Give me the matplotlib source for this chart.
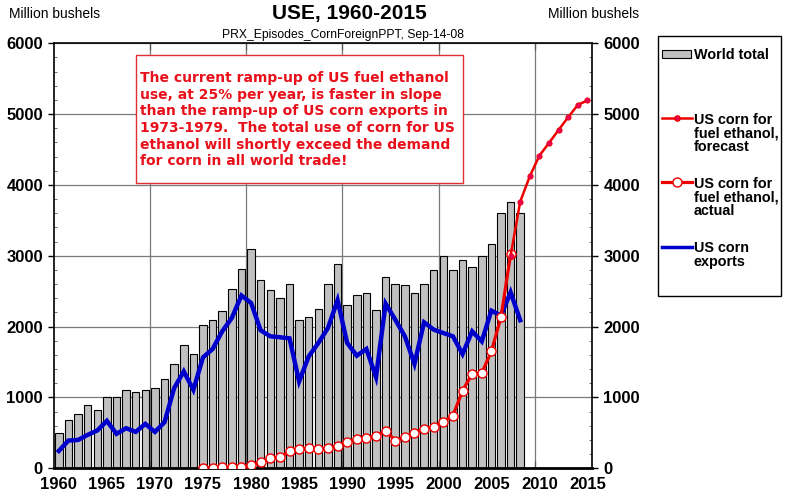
import numpy as np
import matplotlib
matplotlib.use("Agg")
import matplotlib.pyplot as plt
from matplotlib.patches import Rectangle
from matplotlib.lines import Line2D

plt.rcParams['font.family'] = ['Liberation Sans', 'DejaVu Sans']

# ====== Data (million bushels) ======
years = np.arange(1960, 2009)
world_total = [500, 675, 760, 890, 825, 1000, 1000, 1100, 1080, 1100,
               1140, 1260, 1470, 1745, 1610, 2030, 2100, 2220, 2530, 2820,
               3100, 2660, 2520, 2400, 2600, 2100, 2140, 2250, 2600, 2880,
               2300, 2440, 2475, 2240, 2700, 2600, 2590, 2475, 2600, 2800,
               2995, 2805, 2940, 2845, 2995, 3160, 3600, 3760, 3605]
us_exports = [245, 392, 400, 472, 533, 670, 486, 566, 514, 627,
              514, 651, 1132, 1368, 1108, 1566, 1684, 1934, 2123, 2439,
              2335, 1948, 1863, 1850, 1835, 1226, 1580, 1769, 1981, 2373,
              1769, 1590, 1684, 1288, 2325, 2099, 1863, 1476, 2061, 1958,
              1910, 1863, 1613, 1934, 1792, 2226, 2156, 2486, 2090]

eth_years = np.arange(1975, 2008)
eth_actual = [10, 10, 12, 15, 20, 40, 90, 140, 155, 240,
              270, 283, 275, 283, 316, 368, 410, 425, 458, 528,
              392, 439, 505, 552, 590, 656, 745, 1094, 1335, 1344,
              1651, 2132, 3019]

fc_years = np.arange(2007, 2016)
eth_forecast = [3000, 3764, 4123, 4415, 4594, 4778, 4958, 5132, 5193]

tick_years = np.arange(1960, 2016, 5)
grid_years = [1970, 1980, 1990, 2000, 2010]

note = ("The current ramp-up of US fuel ethanol\n"
        "use, at 25% per year, is faster in slope\n"
        "than the ramp-up of US corn exports in\n"
        "1973-1979.  The total use of corn for US\n"
        "ethanol will shortly exceed the demand\n"
        "for corn in all world trade!")

W, H = 787, 498
fig = plt.figure(figsize=(W / 100, H / 100), dpi=100)
ax = fig.add_axes([54 / W, 1 - 468.3 / H, (592.3 - 54) / W, (468.3 - 43.3) / H])

# values are centred in the middle of each year
ax.bar(years + 0.5, world_total, width=0.78, color='#c0c0c0',
       edgecolor='black', linewidth=0.8, zorder=2)
ax.plot(years + 0.5, us_exports, color='#0000cc', lw=3.2, zorder=3,
        solid_joinstyle='miter')
ax.plot(eth_years + 0.5, eth_actual, color='#ee0000', lw=2.3, marker='o',
        markersize=6.5, markerfacecolor='white', markeredgecolor='#ee0000',
        markeredgewidth=1.0, zorder=4)
ax.plot(fc_years + 0.5, eth_forecast, color='#ee0000', lw=1.8, marker='o',
        markersize=3.8, markerfacecolor='#e8005a', markeredgecolor='#ee0000',
        markeredgewidth=0.6, zorder=5)

ax.set_xlim(1960, 2016)
ax.set_ylim(0, 6000)
ax.set_yticks(np.arange(0, 6001, 1000))
ax.set_yticks(np.arange(0, 6001, 200), minor=True)
ax.set_xticks(tick_years + 0.5)
ax.set_xticklabels([str(y) for y in tick_years])
ax.set_xticks(grid_years, minor=True)

ax.set_axisbelow(True)
ax.grid(True, axis='y', which='major', color='#7a7a7a', lw=0.9)
ax.grid(True, axis='x', which='minor', color='#7a7a7a', lw=0.9)

ax.tick_params(axis='x', which='major', length=0, pad=6, labelsize=12)
ax.tick_params(axis='x', which='minor', direction='in', top=True,
               bottom=True, length=5, width=0.9, color='#555555')
ax.tick_params(axis='y', which='major', direction='out', left=True,
               right=True, labelleft=True, labelright=True, length=4,
               width=1, pad=4, labelsize=12)
ax.tick_params(axis='y', which='minor', direction='in', left=True,
               right=True, length=2, width=0.6, color='#555555')
for lab in ax.get_xticklabels() + ax.get_yticklabels():
    lab.set_fontweight('bold')

for side in ['left', 'right', 'top']:
    ax.spines[side].set_linewidth(1.2)
ax.spines['bottom'].set_linewidth(2.0)

# overlay in pixel coordinates for titles, note and legend
ov = fig.add_axes([0, 0, 1, 1], zorder=10)
ov.set_xlim(0, W)
ov.set_ylim(H, 0)
ov.axis('off')

ov.text(349, 13, "USE, 1960-2015", fontsize=15, fontweight='bold',
        ha='center', va='center')
ov.text(9, 14, "Million bushels", fontsize=10, ha='left', va='center')
ov.text(639, 14, "Million bushels", fontsize=10, ha='right', va='center')
ov.text(464, 35, "PRX_Episodes_CornForeignPPT, Sep-14-08", fontsize=8.7,
        ha='right', va='center')

# red note box
ov.add_patch(Rectangle((136, 55), 327, 128, facecolor='white',
                       edgecolor='#e03030', lw=1.0))
ov.text(139.5, 71, note, color='#e8101a', fontsize=10, fontweight='bold',
        family='DejaVu Sans', ha='left', va='top', linespacing=1.24)

# legend
ov.add_patch(Rectangle((658, 36), 122.7, 260, facecolor='white',
                       edgecolor='black', lw=1.0))
ov.add_patch(Rectangle((662, 49.5), 29, 8, facecolor='#c0c0c0',
                       edgecolor='black', lw=0.8))
ov.add_line(Line2D([662, 677, 692], [118, 118, 118], color='#ee0000', lw=1.8,
                   marker='o', markevery=[1], markersize=3.8,
                   markerfacecolor='#e8005a', markeredgecolor='#ee0000'))
ov.add_line(Line2D([662, 677, 692], [182, 182, 182], color='#ee0000', lw=2.3,
                   marker='o', markevery=[1], markersize=6.5,
                   markerfacecolor='white', markeredgecolor='#ee0000'))
ov.add_line(Line2D([662, 692], [246.5, 246.5], color='#0000cc', lw=2.5))
leg_kw = dict(fontsize=10.4, fontweight='bold', ha='left', va='top',
              linespacing=0.98)
ov.text(694, 47.5, "World total", **leg_kw)
ov.text(694, 112.5, "US corn for\nfuel ethanol,\nforecast", **leg_kw)
ov.text(694, 176.5, "US corn for\nfuel ethanol,\nactual", **leg_kw)
ov.text(694, 241, "US corn\nexports", **leg_kw)

fig.savefig("out.png", dpi=100)
